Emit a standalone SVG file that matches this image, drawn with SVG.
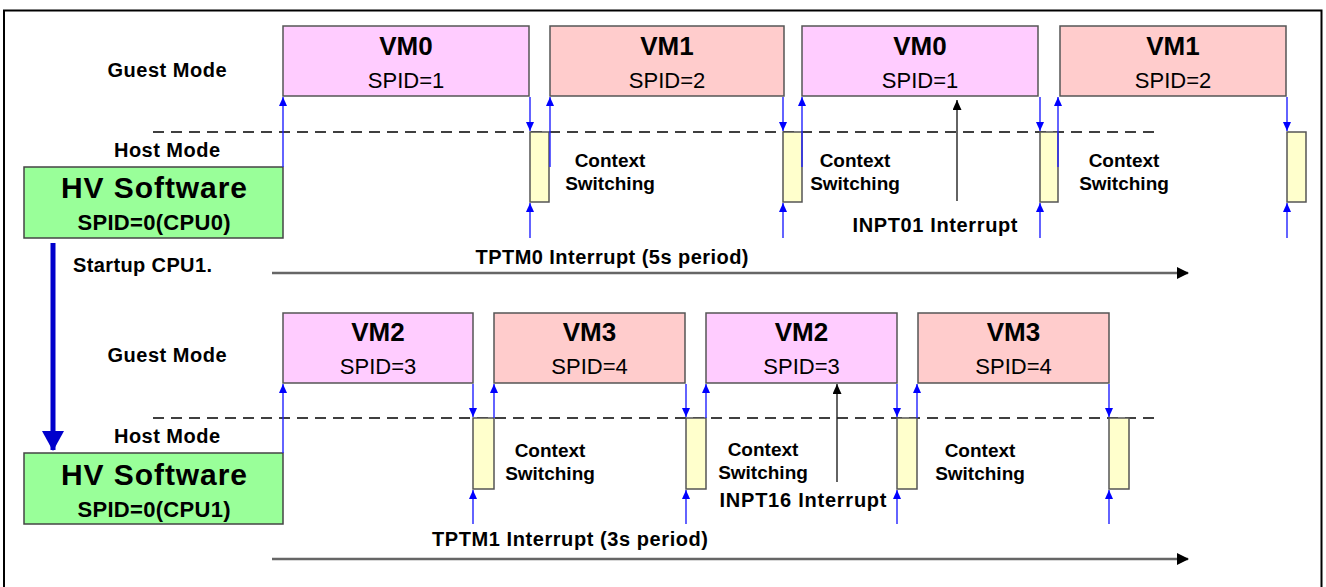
<svg xmlns="http://www.w3.org/2000/svg" width="1326" height="587" viewBox="0 0 1326 587">
<defs>
<style>
text{font-family:"Liberation Sans",Arial,sans-serif;fill:#000}
.lbl{font-size:20px;font-weight:bold}
.cs{font-size:19px;font-weight:bold;text-anchor:middle}
.vmt{font-size:26px;font-weight:bold;text-anchor:middle}
.spid{font-size:22px;text-anchor:middle}
.hv{font-size:30px;font-weight:bold;text-anchor:middle}
.hvs{font-size:22px;font-weight:bold;text-anchor:middle}
.vm-a{fill:#FFCCFF;stroke:#555;stroke-width:1.5}
.vm-b{fill:#FFCCCC;stroke:#555;stroke-width:1.5}
.hvbox{fill:#99FF99;stroke:#444;stroke-width:1.5}
.ctx{fill:#FFFFCC;stroke:#555;stroke-width:1.5}
.dash{stroke:#000;stroke-width:1.5;stroke-dasharray:11 7;fill:none}
.bl{stroke:#2222FF;stroke-width:1.4;fill:none;marker-end:url(#ab)}
.bk{stroke:#222;stroke-width:1.4;fill:none;marker-end:url(#ak)}
.tl{stroke:#666;stroke-width:2.5;fill:none;marker-end:url(#at)}
</style>
<marker id="ab" markerWidth="9" markerHeight="8" refX="9" refY="4" orient="auto" markerUnits="userSpaceOnUse" viewBox="0 0 9 8">
<path d="M0,0 L9,4 L0,8 Z" fill="#0000FF"/>
</marker>
<marker id="ak" markerWidth="10" markerHeight="9" refX="10" refY="4.5" orient="auto" markerUnits="userSpaceOnUse" viewBox="0 0 10 9">
<path d="M0,0 L10,4.5 L0,9 Z" fill="#000"/>
</marker>
<marker id="at" markerWidth="12" markerHeight="12" refX="11" refY="6" orient="auto" markerUnits="userSpaceOnUse" viewBox="0 0 12 12">
<path d="M0,0 L12,6 L0,12 Z" fill="#000"/>
</marker>
<marker id="abig" markerWidth="20" markerHeight="22" refX="19" refY="11" orient="auto" markerUnits="userSpaceOnUse" viewBox="0 0 20 22">
<path d="M0,0 L20,11 L0,22 Z" fill="#0000CC"/>
</marker>
</defs>
<rect x="0" y="0" width="1326" height="587" fill="#fff"/>
<path d="M4,600 L4,10.5 L1321.5,10.5 L1321.5,600" fill="none" stroke="#000" stroke-width="2"/>

<!-- labels -->
<g id="labels">
<text class="lbl" x="167" y="77" text-anchor="middle" textLength="119">Guest Mode</text>
<text class="lbl" x="167" y="157" text-anchor="middle" textLength="106">Host Mode</text>
<text class="lbl" x="73" y="272" textLength="139">Startup CPU1.</text>
<text class="lbl" x="167" y="362" text-anchor="middle" textLength="119">Guest Mode</text>
<text class="lbl" x="167" y="443" text-anchor="middle" textLength="106">Host Mode</text>
<text class="lbl" x="612" y="264" text-anchor="middle" textLength="273">TPTM0 Interrupt (5s period)</text>
<text class="lbl" x="570" y="546" text-anchor="middle" textLength="276">TPTM1 Interrupt (3s period)</text>
<text class="lbl" x="935" y="232" text-anchor="middle" textLength="165">INPT01 Interrupt</text>
<text class="lbl" x="803" y="507" text-anchor="middle" textLength="167">INPT16 Interrupt</text>
<text class="cs" x="610" y="167">Context</text><text class="cs" x="610" y="190">Switching</text>
<text class="cs" x="855" y="167">Context</text><text class="cs" x="855" y="190">Switching</text>
<text class="cs" x="1124" y="167">Context</text><text class="cs" x="1124" y="190">Switching</text>
<text class="cs" x="550" y="457">Context</text><text class="cs" x="550" y="480">Switching</text>
<text class="cs" x="763" y="456">Context</text><text class="cs" x="763" y="479">Switching</text>
<text class="cs" x="980" y="457">Context</text><text class="cs" x="980" y="480">Switching</text>
</g>

<!-- dashed mode separators -->
<path class="dash" d="M153,132 L1156,132"/>
<path class="dash" d="M153,418 L1156,418"/>

<!-- nodes: CPU0 -->
<g id="hv0"><rect class="hvbox" x="24" y="167" width="259" height="71"/>
<text class="hv" x="154" y="198" textLength="186">HV Software</text>
<text class="hvs" x="154" y="230" textLength="153">SPID=0(CPU0)</text></g>
<g id="vm0a"><rect class="vm-a" x="283" y="26" width="246" height="70"/>
<text class="vmt" x="406" y="55">VM0</text><text class="spid" x="406" y="88">SPID=1</text></g>
<g id="vm1a"><rect class="vm-b" x="550" y="26" width="234" height="70"/>
<text class="vmt" x="667" y="55">VM1</text><text class="spid" x="667" y="88">SPID=2</text></g>
<g id="vm0b"><rect class="vm-a" x="802" y="26" width="236" height="70"/>
<text class="vmt" x="920" y="55">VM0</text><text class="spid" x="920" y="88">SPID=1</text></g>
<g id="vm1b"><rect class="vm-b" x="1060" y="26" width="226" height="70"/>
<text class="vmt" x="1173" y="55">VM1</text><text class="spid" x="1173" y="88">SPID=2</text></g>
<g id="cs0a"><rect class="ctx" x="530" y="132" width="19" height="70"/></g>
<g id="cs0b"><rect class="ctx" x="783" y="132" width="19" height="70"/></g>
<g id="cs0c"><rect class="ctx" x="1040" y="132" width="18" height="70"/></g>
<g id="cs0d"><rect class="ctx" x="1287" y="132" width="19" height="70"/></g>

<!-- nodes: CPU1 -->
<g id="hv1"><rect class="hvbox" x="24" y="453" width="259" height="71"/>
<text class="hv" x="154" y="485" textLength="186">HV Software</text>
<text class="hvs" x="154" y="517" textLength="153">SPID=0(CPU1)</text></g>
<g id="vm2a"><rect class="vm-a" x="283" y="313" width="190" height="70"/>
<text class="vmt" x="378" y="341">VM2</text><text class="spid" x="378" y="374">SPID=3</text></g>
<g id="vm3a"><rect class="vm-b" x="494" y="313" width="191" height="70"/>
<text class="vmt" x="589.5" y="341">VM3</text><text class="spid" x="589.5" y="374">SPID=4</text></g>
<g id="vm2b"><rect class="vm-a" x="706" y="313" width="191" height="70"/>
<text class="vmt" x="801.5" y="341">VM2</text><text class="spid" x="801.5" y="374">SPID=3</text></g>
<g id="vm3b"><rect class="vm-b" x="918" y="313" width="191" height="70"/>
<text class="vmt" x="1013.5" y="341">VM3</text><text class="spid" x="1013.5" y="374">SPID=4</text></g>
<g id="cs1a"><rect class="ctx" x="473" y="418" width="21" height="71"/></g>
<g id="cs1b"><rect class="ctx" x="686" y="418" width="20" height="71"/></g>
<g id="cs1c"><rect class="ctx" x="897" y="418" width="20" height="71"/></g>
<g id="cs1d"><rect class="ctx" x="1109" y="418" width="20" height="71"/></g>

<!-- connectors -->
<g id="connectors">
<path class="bl" d="M283,167 L283,97"/>
<path class="bl" d="M530,97 L530,131"/>
<path class="bl" d="M550,167 L550,97"/>
<path class="bl" d="M783,97 L783,131"/>
<path class="bl" d="M802,167 L802,97"/>
<path class="bl" d="M1040,97 L1040,131"/>
<path class="bl" d="M1058,167 L1058,97"/>
<path class="bl" d="M1287,97 L1287,131"/>
<path class="bl" d="M530,238 L530,203"/>
<path class="bl" d="M783,238 L783,203"/>
<path class="bl" d="M1040,238 L1040,203"/>
<path class="bl" d="M1287,238 L1287,203"/>

<path class="bl" d="M283,453 L283,384"/>
<path class="bl" d="M473,384 L473,417"/>
<path class="bl" d="M494,418 L494,384"/>
<path class="bl" d="M686,384 L686,417"/>
<path class="bl" d="M706,418 L706,384"/>
<path class="bl" d="M897,384 L897,417"/>
<path class="bl" d="M917,418 L917,384"/>
<path class="bl" d="M1109,384 L1109,417"/>
<path class="bl" d="M473,524 L473,490"/>
<path class="bl" d="M686,524 L686,490"/>
<path class="bl" d="M897,524 L897,490"/>
<path class="bl" d="M1109,524 L1109,490"/>

<path class="bk" d="M957,201 L957,100"/>
<path class="bk" d="M837,482 L837,384"/>

<path class="tl" d="M272,273 L1188,273"/>
<path class="tl" d="M272,559 L1188,559"/>

<path d="M53,243 L53,450" stroke="#0000CC" stroke-width="5" fill="none" marker-end="url(#abig)"/>
</g>
</svg>
